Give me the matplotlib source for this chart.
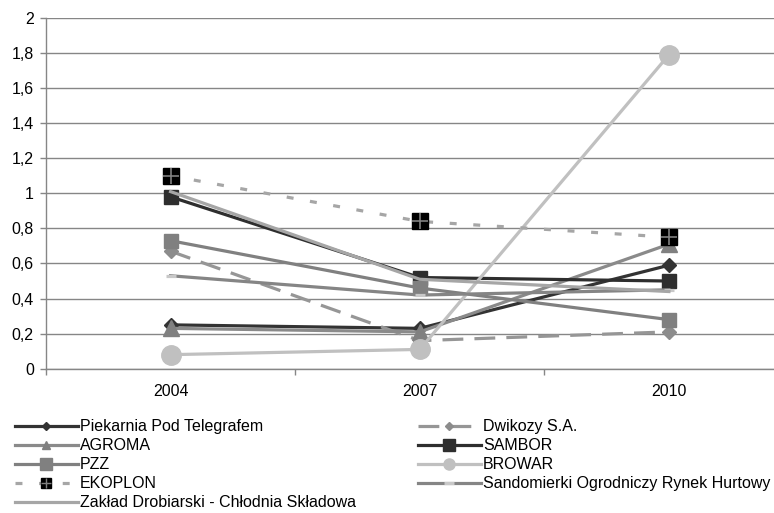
import matplotlib
matplotlib.use("Agg")
import matplotlib.pyplot as plt
from matplotlib.lines import Line2D
from matplotlib.ticker import FixedLocator, FuncFormatter
from matplotlib.legend_handler import HandlerTuple

plt.rcParams['font.family'] = ['Liberation Sans', 'DejaVu Sans']
plt.rcParams['lines.scale_dashes'] = False

years = ["2004", "2007", "2010"]

piekarnia = [0.25, 0.23, 0.59]
dwikozy = [0.67, 0.16, 0.21]
agroma = [0.23, 0.21, 0.71]
sambor = [0.98, 0.52, 0.50]
pzz = [0.73, 0.46, 0.28]
browar = [0.08, 0.11, 1.79]
ekoplon = [1.10, 0.84, 0.75]
sandomierki = [0.53, 0.42, 0.45]
zaklad = [1.01, 0.51, 0.44]

y_ticks = [0, 0.2, 0.4, 0.6, 0.8, 1.0, 1.2, 1.4, 1.6, 1.8, 2.0]

W, H = 774, 513
fig = plt.figure(figsize=(W / 100, H / 100), dpi=100)
ax_left, ax_right, ax_top, ax_bottom = 46, 774, 18, 368.7
ax = fig.add_axes([ax_left / W, 1 - ax_bottom / H,
                   (ax_right - ax_left) / W, (ax_bottom - ax_top) / H])

x = list(range(len(years)))
lw = 2.3
grid_c = "#868686"

# line / marker style of each series
styles = {
    "piek": dict(color="#333333", marker="D", mfc="#333333", mec="#333333"),
    "dwik": dict(color="#969696", ls=(0, (15, 8)), marker="D",
                 mfc="#8c8c8c", mec="#8c8c8c"),
    "agro": dict(color="#8a8a8a", marker="^", mfc="#808080", mec="#808080"),
    "samb": dict(color="#2e2e2e", marker="s", mfc="#2e2e2e", mec="#2e2e2e"),
    "pzz": dict(color="#808080", marker="s", mfc="#808080", mec="#808080"),
    "brow": dict(color="#c0c0c0", marker="o", mfc="#c0c0c0", mec="#c0c0c0"),
    "eko": dict(color="#a6a6a6", ls=(0, (5, 12)), marker="s",
                mfc="black", mec="black"),
    "sand": dict(color="#858585", marker="_", mec="#c8c8c8", mew=2.3),
    "zakl": dict(color="#a6a6a6"),
}
plot_ms = {"piek": 7.5, "dwik": 7.5, "agro": 11, "samb": 9.5, "pzz": 9.5,
           "brow": 14, "eko": 11.5, "sand": 7, "zakl": 0}
leg_ms = {"piek": 4.5, "dwik": 4.5, "agro": 6, "samb": 8, "pzz": 8,
          "brow": 8, "eko": 6.5, "sand": 7, "zakl": 0}

series = [
    ("piek", piekarnia, "Piekarnia Pod Telegrafem"),
    ("dwik", dwikozy, "Dwikozy S.A."),
    ("agro", agroma, "AGROMA"),
    ("samb", sambor, "SAMBOR"),
    ("pzz", pzz, "PZZ"),
    ("brow", browar, "BROWAR"),
    ("eko", ekoplon, "EKOPLON"),
    ("sand", sandomierki, "Sandomierki Ogrodniczy Rynek Hurtowy"),
    ("zakl", zaklad, "Zakład Drobiarski - Chłodnia Składowa"),
]

handles = {}
for key, vals, name in series:
    st = dict(styles[key])
    ax.plot(x, vals, lw=lw, ms=plot_ms[key], zorder=3, **st)
    if key == "eko":
        ax.plot(x, vals, ls="none", marker="+", ms=plot_ms[key], mew=1.2,
                color="#808080", zorder=3.1)
    hl = Line2D([], [], lw=lw, ms=leg_ms[key], **st)
    if key == "eko":
        hl = (hl, Line2D([], [], ls="none", marker="+", ms=leg_ms[key],
                         mew=1.0, color="#808080"))
    handles[key] = (hl, name)

ax.set_xlim(-0.5, (ax_right - 171) / 249.0)
ax.set_ylim(0, 2)

ax.set_yticks(y_ticks)
ax.yaxis.set_major_formatter(FuncFormatter(
    lambda v, p: (f"{v:.1f}".rstrip("0").rstrip(".")).replace(".", ",")))
ax.yaxis.grid(True, color=grid_c, lw=1.0)
ax.set_axisbelow(True)

ax.set_xticks(x)
ax.set_xticklabels(years)
ax.xaxis.set_minor_locator(FixedLocator([-0.5, 0.5, 1.5]))
ax.tick_params(axis="x", which="major", length=0, pad=11, labelsize=11.5,
               colors="black")
ax.tick_params(axis="x", which="minor", length=4, width=1, color=grid_c,
               direction="out")
ax.tick_params(axis="y", length=4.3, width=1, color=grid_c, pad=4.5,
               labelsize=11.5, labelcolor="black")

for side in ("top", "right"):
    ax.spines[side].set_visible(False)
for side in ("left", "bottom"):
    ax.spines[side].set_color(grid_c)
    ax.spines[side].set_linewidth(1)

leg_kw = dict(frameon=False, fontsize=11.5, handlelength=3.94,
              handletextpad=0.13, labelspacing=0.25, borderpad=0,
              borderaxespad=0, loc="upper left",
              handler_map={tuple: HandlerTuple(ndivide=1, pad=0)})
left_col = ["piek", "agro", "pzz", "eko", "zakl"]
right_col = ["dwik", "samb", "brow", "sand"]
fig.legend([handles[k][0] for k in left_col],
           [handles[k][1] for k in left_col],
           bbox_to_anchor=(15 / W, 1 - 419.5 / H), **leg_kw)
fig.legend([handles[k][0] for k in right_col],
           [handles[k][1] for k in right_col],
           bbox_to_anchor=(418 / W, 1 - 419.5 / H), **leg_kw)

fig.savefig("out.png", dpi=100)
